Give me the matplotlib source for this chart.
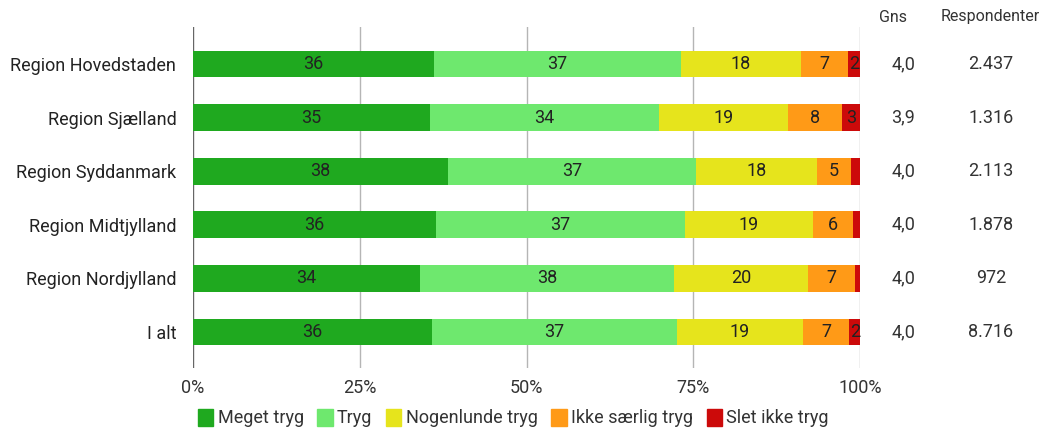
import matplotlib
matplotlib.use("Agg")
import matplotlib.pyplot as plt
import numpy as np
from matplotlib.patches import Patch

plt.rcParams['font.family'] = ['Roboto', 'DejaVu Sans']

regions = ["Region Hovedstaden", "Region Sjælland", "Region Syddanmark",
           "Region Midtjylland", "Region Nordjylland", "I alt"]
series_names = ["Meget tryg", "Tryg", "Nogenlunde tryg", "Ikke særlig tryg", "Slet ikke tryg"]
meget_tryg = [36, 35, 38, 36, 34, 36]
tryg = [37, 34, 37, 37, 38, 37]
nogenlunde = [18, 19, 18, 19, 20, 19]
ikke_saerlig = [7, 8, 5, 6, 7, 7]
slet_ikke = [1.8, 2.7, 1.4, 1.0, 0.8, 1.6]
gns = ["4,0", "3,9", "4,0", "4,0", "4,0", "4,0"]
respondenter = ["2.437", "1.316", "2.113", "1.878", "972", "8.716"]
xticks = [0, 25, 50, 75, 100]
xtick_labels = ["0%", "25%", "50%", "75%", "100%"]

colors = ["#1fa91f", "#6ee86e", "#e6e41c", "#ff9a17", "#cc0a0a"]

data = np.array([meget_tryg, tryg, nogenlunde, ikke_saerlig, slet_ikke], dtype=float)
pct = data / data.sum(axis=0) * 100

fig = plt.figure(figsize=(10.58, 4.32), dpi=100)
ax = fig.add_axes([193/1058, 1-368/432, (860-193)/1058, (368-27)/432])

FS = 13
y = np.arange(len(regions))
left = np.zeros(len(regions))
for i, name in enumerate(series_names):
    ax.barh(y, pct[i], left=left, height=0.5, color=colors[i], zorder=3, label=name)
    for j in range(len(regions)):
        if data[i, j] >= 1.5:
            ax.text(left[j] + pct[i, j] / 2, y[j], f"{data[i, j]:.0f}", ha="center", va="center",
                    fontsize=FS, color="#222222", zorder=4)
    left += pct[i]

ax.set_xlim(0, 100)
ax.set_ylim(len(regions) - 0.33, -0.69)
for xv in xticks:
    ax.axvline(xv, color="#666666" if xv == 0 else "#b5b5b5", lw=1, zorder=1)
ax.set_xticks(xticks)
ax.set_xticklabels(xtick_labels, fontsize=FS, color="#333333")
ax.tick_params(axis="x", length=0, pad=8)
ax.set_yticks(y)
ax.set_yticklabels(regions, fontsize=FS, color="#222222")
ax.tick_params(axis="y", length=0, pad=12)
for s in ax.spines.values():
    s.set_visible(False)

# Right-side columns
trans = ax.get_yaxis_transform()
fig.text(893/1058, 1-17/432, "Gns", ha="center", va="center", fontsize=11.5, color="#333333")
fig.text(990/1058, 1-17/432, "Respondenter", ha="center", va="center", fontsize=11.5, color="#333333")
for j in range(len(regions)):
    ax.text((903-193)/(860-193), y[j], gns[j], transform=trans, ha="center", va="center",
            fontsize=FS, color="#333333", clip_on=False)
    ax.text((991-193)/(860-193), y[j], respondenter[j], transform=trans, ha="center", va="center",
            fontsize=FS, color="#333333", clip_on=False)

handles = [Patch(facecolor=c, edgecolor=c, label=n) for c, n in zip(colors, series_names)]
fig.legend(handles=handles, loc="center left", bbox_to_anchor=(185/1058, 1-418/432), ncol=5,
           frameon=False, fontsize=FS, handlelength=0.85, handleheight=1.1, handletextpad=0.25,
           columnspacing=0.75, labelcolor="#333333", borderpad=0.2)

fig.savefig("out.png", dpi=100, facecolor="white")
